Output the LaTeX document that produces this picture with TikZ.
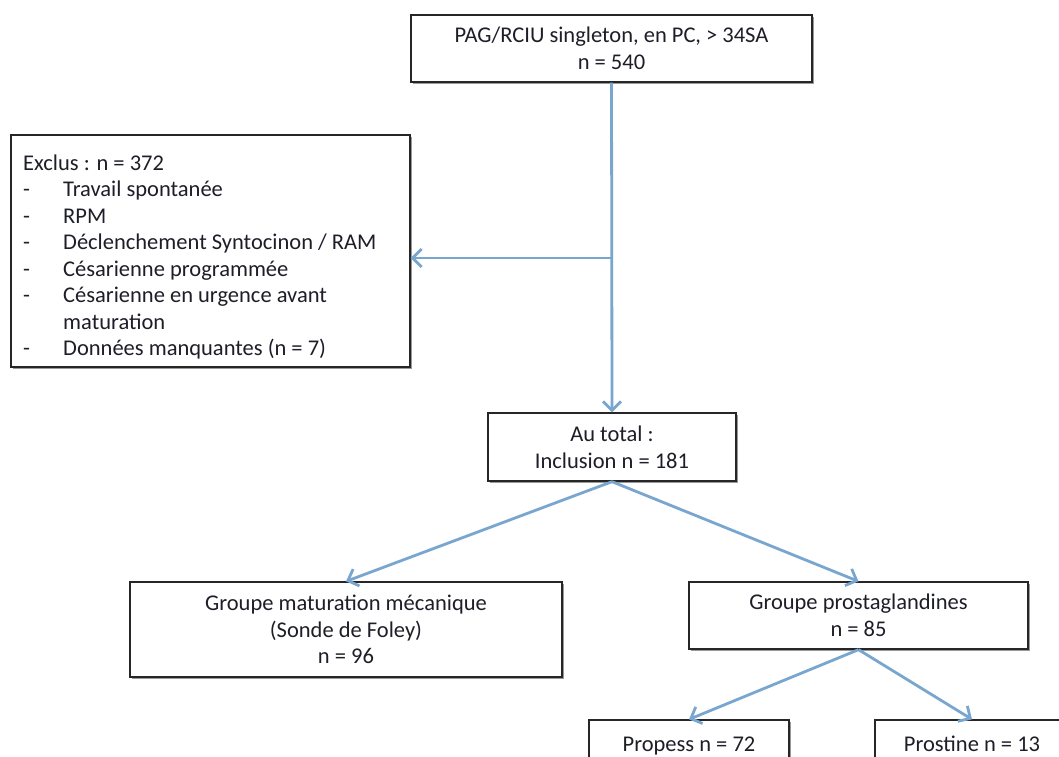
\documentclass[tikz,border=0pt]{standalone}
\usepackage{fontspec}
\setmainfont{Carlito}
\usetikzlibrary{arrows.meta,shadows}
\definecolor{arrblue}{RGB}{121,166,207}
\definecolor{txt}{RGB}{30,30,40}
\begin{document}
\begin{tikzpicture}[x=1pt,y=-1pt,
  box/.style={draw=black!85, line width=1.3pt, fill=white,
    drop shadow={shadow xshift=1.6pt, shadow yshift=-1.6pt, fill=black!40, opacity=1},
    font=\fontsize{22.5}{26.7}\selectfont, text=txt, align=center, inner sep=0pt},
  arr/.style={draw=arrblue, line width=2.8pt, -{Straight Barb[length=9pt,width=18pt]}}]
\useasboundingbox (0,0) rectangle (1059,756);
\fill[white] (0,0) rectangle (1059,756);
\clip (0,0) rectangle (1059,756);

\node[box, minimum width=401pt, minimum height=67pt] (top) at (611.5,48.5)
  {PAG/RCIU singleton, en PC, > 34SA\\ n = 540};
\node[box, minimum width=399pt, minimum height=232pt] (excl) at (210.5,251) {};
\node[anchor=west, inner sep=0pt, align=left, text=txt,
  font=\fontsize{22.5}{26.5}\selectfont] (exclt) at (23,257)
  {Exclus : n = 372\\
   \makebox[40pt][l]{-}Travail spontanée\\
   \makebox[40pt][l]{-}RPM\\
   \makebox[40pt][l]{-}Déclenchement Syntocinon / RAM\\
   \makebox[40pt][l]{-}Césarienne programmée\\
   \makebox[40pt][l]{-}Césarienne en urgence avant\\
   \hspace*{40pt}maturation\\
   \makebox[40pt][l]{-}Données manquantes (n = 7)};
\node[box, minimum width=248pt, minimum height=68pt] (total) at (612,447)
  {Au total :\\ Inclusion n = 181};
\node[box, minimum width=432pt, minimum height=95pt] (mech) at (346,629.5)
  {Groupe maturation mécanique\\ (Sonde de Foley)\\ n = 96};
\node[box, minimum width=339pt, minimum height=67pt] (prost) at (858.5,615.5)
  {Groupe prostaglandines\\ n = 85};
\node[box, minimum width=200pt, minimum height=52pt, text height=15pt, text depth=5pt] (propess) at (689,746)
  {Propess n = 72};
\node[box, minimum width=194pt, minimum height=52pt, text height=15pt, text depth=5pt] (prostine) at (972,746)
  {Prostine n = 13};

\coordinate (j) at (612,258);
\draw[arr] (top.south) -- (total.north);
\draw[arr] (j) -- (j -| excl.east);
\draw[arr] (total.south) -- (mech.north);
\draw[arr] (total.south) -- (prost.north);
\draw[arr] (prost.south) -- (propess.north);
\draw[arr] (prost.south) -- (prostine.north);
\end{tikzpicture}
\end{document}
